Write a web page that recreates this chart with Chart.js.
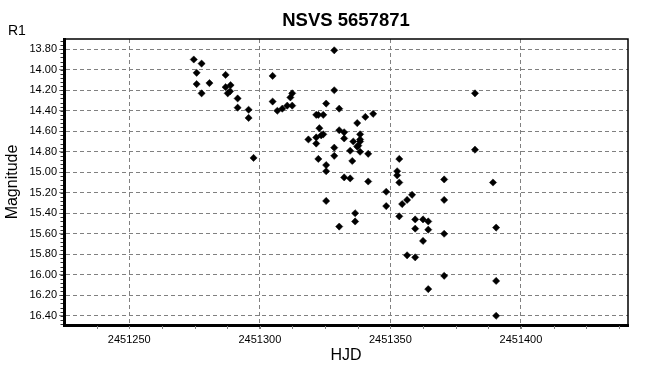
<!DOCTYPE html>
<html><head><meta charset="utf-8">
<script src="https://cdn.jsdelivr.net/npm/chart.js@4.4.1/dist/chart.umd.min.js"></script>
<style>html,body{margin:0;padding:0;background:#fff}canvas{display:block}</style>
</head><body>
<canvas id="c" width="660" height="376"></canvas>
<script>
const chartTitle = 'NSVS 5657871';
const yUnit = 'R1';
const xTitle = 'HJD';
const yTitle = 'Magnitude';

const hjd = [
  2451274.7, 2451277.7, 2451275.8, 2451275.8, 2451277.7, 2451280.7, 2451286.9, 2451286.9,
  2451287.7, 2451288.6, 2451288.8, 2451291.5, 2451291.5, 2451295.7, 2451295.7, 2451297.6,
  2451304.9, 2451304.9, 2451306.7, 2451308.6, 2451310.5, 2451312.4, 2451311.7, 2451312.4,
  2451328.5, 2451328.5, 2451325.4, 2451330.4, 2451321.6, 2451322.4, 2451324.3, 2451322.8,
  2451318.6, 2451321.6, 2451323.5, 2451324.3, 2451321.6, 2451322.4, 2451325.4, 2451325.4,
  2451328.5, 2451328.5, 2451330.4, 2451332.3, 2451332.3, 2451335.8, 2451334.6, 2451335.4,
  2451337.3, 2451340.4, 2451343.4, 2451338.4, 2451338.4, 2451338.4, 2451337.7, 2451337.3,
  2451338.4, 2451341.5, 2451332.3, 2451334.6, 2451341.5, 2451348.4, 2451353.4, 2451352.6,
  2451352.6, 2451353.4, 2451358.3, 2451356.4, 2451354.5, 2451348.4, 2451370.6, 2451370.6,
  2451325.4, 2451336.5, 2451336.5, 2451330.4, 2451353.4, 2451359.5, 2451362.5, 2451364.5,
  2451359.5, 2451364.5, 2451370.6, 2451362.5, 2451356.4, 2451359.5, 2451370.6, 2451364.5,
  2451382.4, 2451382.4, 2451389.3, 2451390.5, 2451390.5, 2451390.5
];
const mag = [
  13.90, 13.94, 14.03, 14.14, 14.23, 14.13, 14.05, 14.17,
  14.23, 14.21, 14.15, 14.28, 14.37, 14.39, 14.47, 14.86,
  14.06, 14.31, 14.40, 14.38, 14.35, 14.35, 14.27, 14.23,
  13.81, 14.20, 14.33, 14.38, 14.44, 14.44, 14.44, 14.57,
  14.68, 14.66, 14.64, 14.63, 14.72, 14.87, 14.93, 14.99,
  14.76, 14.84, 14.59, 14.61, 14.67, 14.70, 14.79, 14.89,
  14.52, 14.46, 14.43, 14.63, 14.68, 14.70, 14.74, 14.75,
  14.80, 14.82, 15.05, 15.06, 15.09, 15.19, 14.87, 14.99,
  15.03, 15.10, 15.22, 15.27, 15.31, 15.33, 15.07, 15.27,
  15.28, 15.40, 15.48, 15.53, 15.43, 15.46, 15.46, 15.48,
  15.55, 15.56, 15.60, 15.67, 15.81, 15.83, 16.01, 16.14,
  14.23, 14.78, 15.10, 15.54, 16.06, 16.40
];

const xTickValues = [2451250, 2451300, 2451350, 2451400];
const yTickValues = [13.80, 14.00, 14.20, 14.40, 14.60, 14.80, 15.00, 15.20, 15.40, 15.60, 15.80, 16.00, 16.20, 16.40];
const xRange = [2451225, 2451441];
const yRange = [13.70, 16.49];

const points = hjd.map((x, i) => ({ x: x, y: mag[i] }));
const GRID = '#808080';
const FONT = '"Liberation Sans", Arial, sans-serif';

const framePlugin = {
  id: 'frame',
  afterDraw(chart) {
    const { ctx, chartArea: a, scales: { x, y } } = chart;
    ctx.save();
    ctx.strokeStyle = '#000';
    ctx.lineWidth = 1.5;
    ctx.beginPath();
    ctx.moveTo(a.left, a.top);
    ctx.lineTo(a.right, a.top);
    ctx.lineTo(a.right, a.bottom);
    ctx.stroke();
    // minor ticks
    ctx.strokeStyle = GRID;
    ctx.lineWidth = 1;
    const xStep = (xTickValues[1] - xTickValues[0]) / 4;
    for (let k = -4; k < 40; k++) {
      const v = xTickValues[0] + k * xStep;
      if (v <= xRange[0] || v >= xRange[1]) continue;
      const px = Math.round(x.getPixelForValue(v)) + 0.5;
      ctx.beginPath();
      ctx.moveTo(px, a.bottom + 1);
      ctx.lineTo(px, a.bottom + 4);
      ctx.stroke();
    }
    const yStep = (yTickValues[1] - yTickValues[0]) / 5;
    ctx.strokeStyle = '#333';
    for (let k = -5; k < 80; k++) {
      const v = yTickValues[0] + k * yStep;
      if (v <= yRange[0] || v >= yRange[1]) continue;
      const py = Math.round(y.getPixelForValue(v)) + 0.5;
      ctx.beginPath();
      ctx.moveTo(a.left - 3.5, py);
      ctx.lineTo(a.left - 1, py);
      ctx.stroke();
    }
    ctx.fillStyle = '#000';
    ctx.font = 'bold 18.5px ' + FONT;
    ctx.textAlign = 'center';
    ctx.textBaseline = 'alphabetic';
    ctx.fillText(chartTitle, (a.left + a.right) / 2, 26);
    ctx.font = '14px ' + FONT;
    ctx.textAlign = 'left';
    ctx.fillText(yUnit, 8, 35);
    ctx.restore();
  }
};

new Chart(document.getElementById('c'), {
  type: 'scatter',
  data: {
    datasets: [{
      data: points,
      pointStyle: 'rectRot',
      pointRadius: 3.6,
      pointHoverRadius: 3.6,
      backgroundColor: '#000',
      borderColor: '#000',
      borderWidth: 0.5
    }]
  },
  options: {
    responsive: false,
    animation: false,
    events: [],
    layout: { padding: { top: 39, right: 32, left: 0, bottom: 0 } },
    plugins: { legend: { display: false }, tooltip: { enabled: false }, title: { display: false } },
    scales: {
      x: {
        type: 'linear', min: xRange[0], max: xRange[1],
        afterBuildTicks: s => { s.ticks = xTickValues.map(v => ({ value: v })); },
        afterFit: s => { s.height = 51; },
        ticks: { callback: v => String(v), font: { family: FONT, size: 11 }, color: '#000', padding: 4, maxRotation: 0, autoSkip: false },
        grid: { color: GRID, tickColor: GRID, tickLength: 4, tickBorderDash: [] },
        border: { display: true, color: '#000', width: 3, dash: [4, 3] },
        title: { display: true, text: xTitle, font: { family: FONT, size: 16 }, color: '#000', padding: { top: 0, bottom: 11 } }
      },
      y: {
        type: 'linear', reverse: true, min: yRange[0], max: yRange[1],
        afterBuildTicks: s => { s.ticks = yTickValues.map(v => ({ value: v })); },
        afterFit: s => { s.width = 64; },
        ticks: { callback: v => Number(v).toFixed(2), font: { family: FONT, size: 11 }, color: '#000', padding: 2, autoSkip: false },
        grid: { color: GRID, tickColor: GRID, tickLength: 5, tickBorderDash: [] },
        border: { display: true, color: '#000', width: 3, dash: [4, 3] },
        title: { display: true, text: yTitle, font: { family: FONT, size: 16 }, color: '#000', padding: { top: 3, bottom: 0 } }
      }
    }
  },
  plugins: [framePlugin]
});
</script>
</body></html>
